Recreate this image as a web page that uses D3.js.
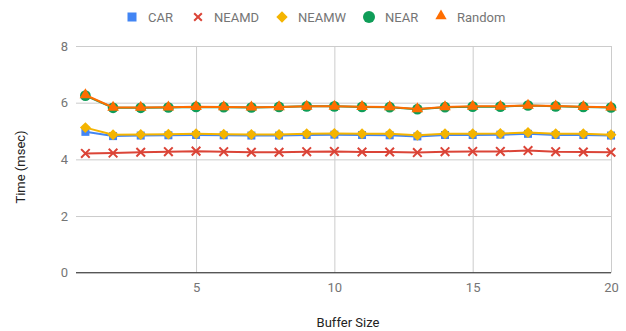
<!DOCTYPE html>
<html>
<head>
<meta charset="utf-8">
<script src="https://cdn.jsdelivr.net/npm/d3@7"></script>
<style>
  html, body { margin: 0; padding: 0; background: #fff; }
  svg { display: block; font-family: Roboto, Arial, sans-serif; }
</style>
</head>
<body>
<svg id="chart" width="626" height="331"></svg>
<script>
// Buffer sizes on the x axis
const bufferSizes = d3.range(1, 21);

// Average time (msec) per strategy
const carValues    = [4.97, 4.82, 4.84, 4.85, 4.86, 4.85, 4.84, 4.84, 4.86, 4.87, 4.86, 4.85, 4.81, 4.86, 4.86, 4.87, 4.90, 4.86, 4.86, 4.84];
const neamdValues  = [4.21, 4.22, 4.25, 4.27, 4.29, 4.27, 4.25, 4.25, 4.27, 4.28, 4.26, 4.26, 4.24, 4.27, 4.28, 4.28, 4.31, 4.27, 4.26, 4.25];
const neamwValues  = [5.12, 4.87, 4.88, 4.89, 4.90, 4.89, 4.88, 4.88, 4.90, 4.91, 4.90, 4.90, 4.85, 4.90, 4.90, 4.91, 4.95, 4.90, 4.90, 4.87];
const nearValues   = [6.25, 5.82, 5.82, 5.83, 5.85, 5.84, 5.83, 5.85, 5.87, 5.87, 5.85, 5.84, 5.77, 5.84, 5.86, 5.86, 5.90, 5.87, 5.85, 5.83];
const randomValues = [6.27, 5.83, 5.83, 5.84, 5.86, 5.85, 5.84, 5.85, 5.87, 5.87, 5.86, 5.85, 5.78, 5.85, 5.87, 5.87, 5.90, 5.88, 5.86, 5.84];

const seriesNames  = ["CAR", "NEAMD", "NEAMW", "NEAR", "Random"];
const seriesColors = ["#4285F4", "#DB4437", "#F4B400", "#0F9D58", "#FF6D00"];
const seriesShapes = ["square", "cross", "diamond", "circle", "triangle"];

const yTicks = [0, 2, 4, 6, 8];
const xTicks = [5, 10, 15, 20];

const series = seriesNames.map((name, i) => ({
  name,
  color: seriesColors[i],
  shape: seriesShapes[i],
  values: [carValues, neamdValues, neamwValues, nearValues, randomValues][i]
}));

const svg = d3.select("#chart");
const plot = { left: 76, right: 611, top: 46, bottom: 272.7 };

const x = d3.scaleLinear().domain([0.66, 20]).range([plot.left, plot.right]);
const y = d3.scaleLinear().domain([0, 8]).range([plot.bottom, plot.top]);

const textColor = "#757575";

// Horizontal gridlines and y tick labels
const yAxis = d3.axisLeft(y).tickValues(yTicks).tickSize(-(plot.right - plot.left)).tickPadding(8);
const gy = svg.append("g").attr("transform", `translate(${plot.left},0)`).call(yAxis);
gy.select(".domain").remove();
gy.selectAll(".tick line").attr("stroke", "#cccccc").attr("stroke-width", 1);
gy.selectAll(".tick text").attr("fill", textColor).style("font-size", "13px").style("font-family", "Roboto, Arial, sans-serif");

// Vertical gridlines and x tick labels
const xAxis = d3.axisBottom(x).tickValues(xTicks).tickSize(-(plot.bottom - plot.top)).tickPadding(10);
const gx = svg.append("g").attr("transform", `translate(0,${plot.bottom})`).call(xAxis);
gx.select(".domain").remove();
gx.selectAll(".tick line").attr("stroke", "#cccccc").attr("stroke-width", 1);
gx.selectAll(".tick text").attr("fill", textColor).style("font-size", "13px").style("font-family", "Roboto, Arial, sans-serif");

// Zero baseline
svg.append("line")
  .attr("x1", plot.left).attr("x2", plot.right)
  .attr("y1", y(0)).attr("y2", y(0))
  .attr("stroke", "#333333").attr("stroke-width", 1);

// Axis titles
svg.append("text")
  .attr("x", 348).attr("y", 327)
  .attr("text-anchor", "middle")
  .attr("fill", "#222")
  .style("font-size", "13px")
  .text("Buffer Size");

svg.append("text")
  .attr("transform", "translate(25,167) rotate(-90)")
  .attr("text-anchor", "middle")
  .attr("fill", "#222")
  .style("font-size", "13px")
  .text("Time (msec)");

// Marker glyph for each series shape
function drawMarker(g, shape, color) {
  if (shape === "cross") {
    g.append("path").attr("d", d3.symbol(d3.symbolX, 50)()).attr("fill", "none")
      .attr("stroke", color).attr("stroke-width", 2);
  } else if (shape === "diamond") {
    g.append("path").attr("d", d3.symbol(d3.symbolSquare, 60)()).attr("transform", "rotate(45)").attr("fill", color);
  } else if (shape === "triangle") {
    g.append("path").attr("d", d3.symbol(d3.symbolTriangle, 58)()).attr("fill", color);
  } else if (shape === "square") {
    g.append("path").attr("d", d3.symbol(d3.symbolSquare, 64)()).attr("fill", color);
  } else {
    g.append("path").attr("d", d3.symbol(d3.symbolCircle, 90)()).attr("fill", color);
  }
}

const line = d3.line().x((d, i) => x(bufferSizes[i])).y(d => y(d));

series.forEach(s => {
  const g = svg.append("g");
  g.append("path")
    .attr("d", line(s.values))
    .attr("fill", "none")
    .attr("stroke", s.color)
    .attr("stroke-width", 2);
  s.values.forEach((v, i) => {
    const m = g.append("g").attr("transform", `translate(${x(bufferSizes[i])},${y(v)})`);
    drawMarker(m, s.shape, s.color);
  });
});

// Legend
const legendX = [132, 198, 282, 369, 441];
const legend = svg.append("g");
series.forEach((s, i) => {
  const item = legend.append("g").attr("transform", `translate(${legendX[i]},17)`);
  const m = item.append("g");
  if (s.shape === "square") {
    m.append("rect").attr("x", -4.5).attr("y", -4.5).attr("width", 9).attr("height", 9).attr("fill", s.color);
  } else if (s.shape === "cross") {
    m.append("path").attr("d", d3.symbol(d3.symbolX, 40)()).attr("fill", "none").attr("stroke", s.color).attr("stroke-width", 2);
  } else if (s.shape === "diamond") {
    m.append("path").attr("d", d3.symbol(d3.symbolSquare, 64)()).attr("transform", "rotate(45)").attr("fill", s.color);
  } else if (s.shape === "circle") {
    m.append("circle").attr("r", 6).attr("fill", s.color);
  } else {
    m.append("path").attr("d", d3.symbol(d3.symbolTriangle, 55)()).attr("transform", "translate(0,-1)").attr("fill", s.color);
  }
  item.append("text")
    .attr("x", 16).attr("y", 0).attr("dy", "0.35em")
    .attr("fill", textColor)
    .style("font-size", "13px")
    .text(s.name);
});
</script>
</body>
</html>
